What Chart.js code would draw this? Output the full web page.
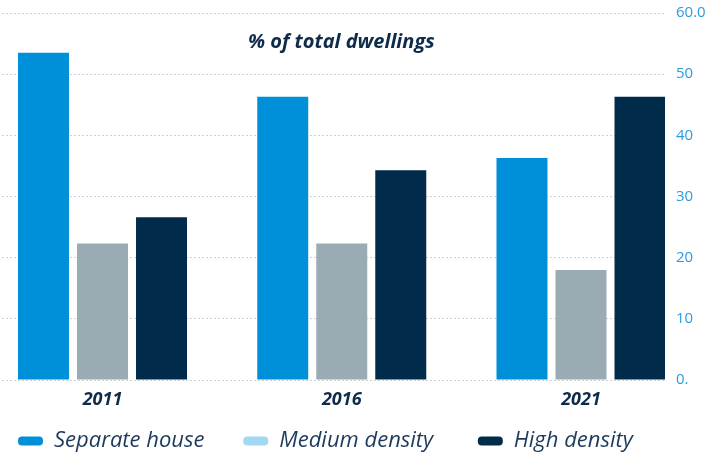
<!DOCTYPE html>
<html>
<head>
<meta charset="utf-8">
<script src="https://cdn.jsdelivr.net/npm/chart.js@4/dist/chart.umd.min.js"></script>
<style>
  html, body { margin: 0; padding: 0; background: #ffffff; }
  #wrap { width: 705px; height: 456px; }
</style>
</head>
<body>
<div id="wrap"><canvas id="c"></canvas></div>
<script>
const categories = ['2011', '2016', '2021'];
const seriesNames = ['Separate house', 'Medium density', 'High density'];
const separateHouse = [53.5, 46.3, 36.3];
const mediumDensity = [22.3, 22.3, 18.0];
const highDensity = [26.6, 34.3, 46.3];
const yTickLabels = ['0.', '10', '20', '30', '40', '50', '60.0'];
const titleText = '% of total dwellings';

const barColors = ['#0090d9', '#9aabb4', '#002b4a'];
const legendColors = ['#0090d9', '#a3d8f2', '#002b4a'];
const legendTrail = ['    ', '     ', ''];
const seriesValues = [separateHouse, mediumDensity, highDensity];

const datasets = seriesNames.map((name, i) => ({
  label: name,
  data: categories.map((c, j) => ({ x: j, y: seriesValues[i][j] })),
  backgroundColor: barColors[i],
  borderWidth: 0,
  categoryPercentage: 0.74,
  barPercentage: 0.864
}));

const navy = '#0d2b4a';

new Chart(document.getElementById('c'), {
  type: 'bar',
  data: { datasets },
  options: {
    responsive: true,
    maintainAspectRatio: false,
    animation: false,
    events: [],
    layout: { padding: { left: 2, right: 0, top: 0, bottom: -6 } },
    scales: {
      x: {
        type: 'linear',
        position: 'bottom',
        offset: false,
        min: -0.42006,
        max: 2.3511,
        grid: { display: false, drawTicks: false, offset: false },
        border: { display: false },
        ticks: {
          stepSize: 1,
          includeBounds: false,
          autoSkip: false,
          maxRotation: 0,
          padding: 9,
          color: navy,
          font: { family: 'Open Sans', size: 18, weight: 'bold', style: 'italic' },
          callback: (v) => (Number.isInteger(v) && categories[v] !== undefined) ? categories[v] : ''
        },
        afterFit: (s) => { s.height = 34; }
      },
      y: {
        position: 'right',
        min: 0,
        max: 60,
        grid: { color: '#cdd1d4', lineWidth: 1, drawTicks: false },
        border: { display: false, dash: [2, 2] },
        ticks: {
          stepSize: 10,
          padding: 11,
          color: '#2b9be0',
          font: { family: 'Open Sans', size: 15 },
          callback: (v, i) => yTickLabels[i]
        },
        afterFit: (s) => { s.width = 40; s.paddingTop = 0; s.paddingBottom = 0; }
      }
    },
    plugins: {
      tooltip: { enabled: false },
      title: {
        display: true,
        fullSize: false,
        text: '   ' + titleText,
        position: 'top',
        align: 'center',
        color: navy,
        font: { family: 'Open Sans', size: 20, weight: 'bold', style: 'italic', lineHeight: 1.2 },
        padding: { top: 30, bottom: -41 }
      },
      legend: {
        display: true,
        position: 'bottom',
        align: 'start',
        labels: {
          boxWidth: 25,
          boxHeight: 9,
          padding: 16,
          useBorderRadius: true,
          borderRadius: 4,
          color: '#1d3a5c',
          font: { family: 'Open Sans', size: 22, style: 'italic' },
          generateLabels: () => seriesNames.map((n, i) => ({
            text: n + legendTrail[i],
            fillStyle: legendColors[i],
            strokeStyle: legendColors[i],
            lineWidth: 0,
            hidden: false,
            datasetIndex: i,
            borderRadius: 4,
            fontColor: '#1d3a5c'
          }))
        }
      }
    }
  }
});
</script>
</body>
</html>
